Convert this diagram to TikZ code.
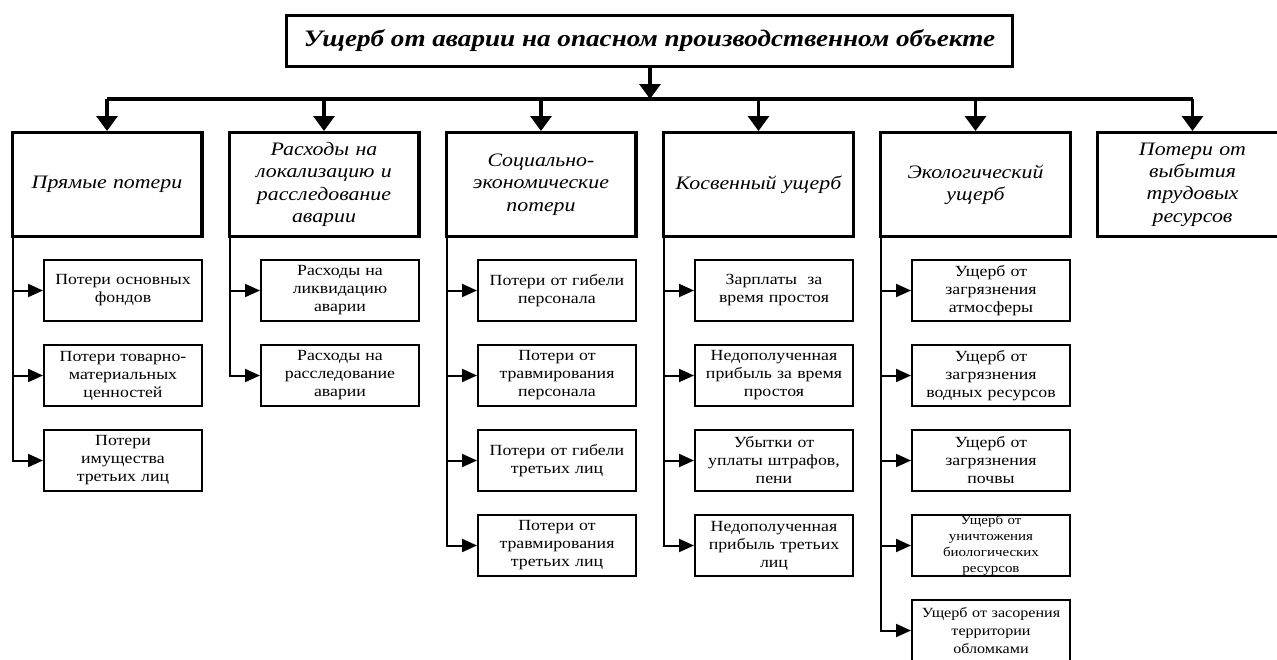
\documentclass[tikz,border=0pt]{standalone}
\usepackage{fontspec}
\setmainfont[FakeStretch=1.15]{Liberation Serif}
\usetikzlibrary{arrows.meta}
\tikzset{
  titlebox/.style={draw, line width=3.3pt, minimum width=725.7pt, minimum height=50.7pt, inner sep=0pt,
    font=\fontsize{23.6}{28}\selectfont\bfseries\itshape},
  topbox/.style={draw, line width=3.3pt, minimum width=189.7pt, minimum height=103.7pt, inner sep=0pt,
    text width=185pt, align=center, font=\fontsize{19}{22.3}\selectfont\itshape},
  subbox/.style={draw, line width=2pt, minimum width=158pt, minimum height=61pt, inner sep=0pt,
    text width=155pt, align=center, font=\fontsize{15.5}{18}\selectfont},
  bigarrow/.style={line width=3.3pt, -{Triangle[length=15pt,width=21pt]}},
  busline/.style={line width=3.3pt},
  subarrow/.style={line width=2pt, -{Triangle[length=15pt,width=13pt]}},
}
\begin{document}
\begin{tikzpicture}[x=1pt,y=-1pt]
\useasboundingbox (0,0) rectangle (1277,659);
\clip (0,0) rectangle (1277,659);
\node[titlebox] (t) at (649.5,41) {Ущерб от аварии на опасном производственном объекте};
\coordinate (bus) at (650,99);
\node[topbox] (b1) at (107,184.5) {Прямые потери};
\node[topbox] (b2) at (324,184.5) {Расходы на\\локализацию и\\расследование\\аварии};
\node[topbox] (b3) at (541,184.5) {Социально-\\экономические\\потери};
\node[topbox] (b4) at (758.5,184.5) {Косвенный ущерб};
\node[topbox] (b5) at (975.5,184.5) {Экологический\\ущерб};
\node[topbox] (b6) at (1192.5,184.5) {Потери от\\выбытия\\трудовых\\ресурсов};
% bus
\draw[bigarrow] (t.south -| bus) -- (bus);
\draw[busline] (b1.north |- bus) -- (b6.north |- bus);
\foreach \b in {b1,b2,b3,b4,b5,b6} \draw[bigarrow] (\b.north |- bus) -- (\b.north);
% children column 1
\node[subbox] (c11) at (123,290.5) {Потери основных\\фондов};
\node[subbox] (c12) at (123,375.5) {Потери товарно-\\материальных\\ценностей};
\node[subbox] (c13) at (123,460.5) {Потери\\имущества\\третьих лиц};
% column 2
\node[subbox] (c21) at (340,290.5) {Расходы на\\ликвидацию\\аварии};
\node[subbox] (c22) at (340,375.5) {Расходы на\\расследование\\аварии};
% column 3
\node[subbox] (c31) at (557,290.5) {Потери от гибели\\персонала};
\node[subbox] (c32) at (557,375.5) {Потери от\\травмирования\\персонала};
\node[subbox] (c33) at (557,460.5) {Потери от гибели\\третьих лиц};
\node[subbox] (c34) at (557,545.5) {Потери от\\травмирования\\третьих лиц};
% column 4
\node[subbox] (c41) at (774,290.5) {Зарплаты\ \ за\\время простоя};
\node[subbox] (c42) at (774,375.5) {Недополученная\\прибыль за время\\простоя};
\node[subbox] (c43) at (774,460.5) {Убытки от\\уплаты штрафов,\\пени};
\node[subbox] (c44) at (774,545.5) {Недополученная\\прибыль третьих\\лиц};
% column 5
\node[subbox] (c51) at (991,290.5) {Ущерб от\\загрязнения\\атмосферы};
\node[subbox] (c52) at (991,375.5) {Ущерб от\\загрязнения\\водных ресурсов};
\node[subbox] (c53) at (991,460.5) {Ущерб от\\загрязнения\\почвы};
\node[subbox, font=\fontsize{13}{16}\selectfont] (c54) at (991,545.5) {Ущерб от\\уничтожения\\биологических\\ресурсов};
\node[subbox, font=\fontsize{14}{18}\selectfont] (c55) at (991,630.5) {Ущерб от засорения\\территории\\обломками};
% connectors
\foreach \p/\c in {b1/c11,b1/c12,b1/c13,b2/c21,b2/c22,b3/c31,b3/c32,b3/c33,b3/c34,b4/c41,b4/c42,b4/c43,b4/c44,b5/c51,b5/c52,b5/c53,b5/c54,b5/c55}
  \draw[subarrow] ([xshift=2pt]\p.south west) |- (\c.west);
\end{tikzpicture}
\end{document}
